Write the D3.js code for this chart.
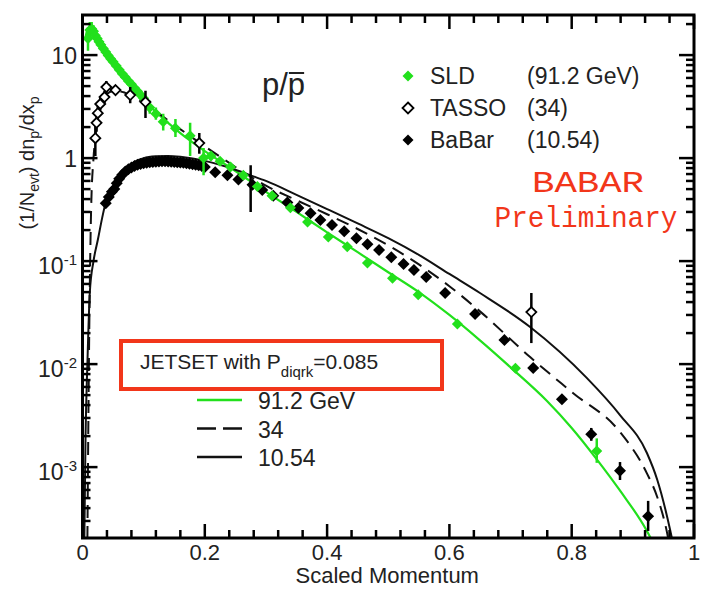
<!DOCTYPE html>
<html><head><meta charset="utf-8">
<script src="https://cdn.jsdelivr.net/npm/d3@7"></script>
<style>body{margin:0;background:#fff}svg{display:block}</style>
</head><body><svg id="c" width="701" height="590"></svg>
<script>
// ---- data ----
const sldP  = [0.009,0.012,0.015,0.018,0.021,0.024,0.027,0.030,0.034,0.038,0.042,0.046,0.050,0.055,0.060,0.065,0.070,0.075,0.080,0.085,0.090,0.095,0.100,0.110,0.120,0.132,0.152,0.176,0.198,0.210,0.225,0.242,0.263,0.286,0.310,0.340,0.368,0.402,0.433,0.466,0.507,0.549,0.613,0.708,0.841];
const sldV  = [14.5,17.5,18,17,15.5,14.5,13.5,12.6,11.6,10.7,9.9,9.2,8.6,7.9,7.2,6.6,6.1,5.6,5.2,4.8,4.45,4.1,3.8,3.1,2.7,2.25,1.95,1.65,1.0,1.05,0.93,0.82,0.68,0.53,0.43,0.33,0.239,0.171,0.138,0.096,0.068,0.047,0.0245,0.0091,0.00143];
const sldLo = [11,15,16,15,14,13.2,12.4,11.6,10.8,10,9.3,8.6,8.1,7.4,6.8,6.2,5.7,5.2,4.8,4.4,4.1,3.75,3.45,2.7,2.35,1.85,1.6,1.05,0.68,0.95,0.85,0.75,0.62,0.49,0.4,0.31,0.225,0.16,0.13,0.09,0.064,0.044,0.023,0.0085,0.0011];
const sldHi = [18.5,21,21,19.5,17.5,16,14.8,13.7,12.5,11.5,10.6,9.9,9.2,8.5,7.7,7.1,6.6,6.1,5.7,5.3,4.9,4.5,4.2,3.6,3.1,2.7,2.4,2.2,1.25,1.15,1.0,0.9,0.74,0.57,0.46,0.35,0.255,0.182,0.146,0.102,0.072,0.05,0.026,0.0097,0.0019];

const tassoP  = [0.021,0.023,0.025,0.029,0.036,0.039,0.054,0.078,0.103,0.191,0.275,0.734];
const tassoV  = [1.56,2.2,2.73,3.35,3.91,4.89,4.57,4.09,3.5,1.40,0.55,0.032];
const tassoLo = [1.05,1.8,2.3,2.9,3.4,4.2,4.1,3.4,2.45,1.1,0.30,0.016];
const tassoHi = [2.3,2.7,3.2,3.9,4.5,5.6,5.1,4.9,4.5,1.75,0.85,0.049];

const babarP = [0.038,0.043,0.048,0.052,0.056,0.060,0.065,0.070,0.075,0.080,0.085,0.090,0.095,0.100,0.105,0.110,0.115,0.120,0.125,0.130,0.135,0.140,0.145,0.150,0.155,0.160,0.165,0.170,0.175,0.180,0.185,0.190,0.195,0.200,0.217,0.237,0.255,0.278,0.294,0.312,0.335,0.353,0.373,0.389,0.408,0.428,0.448,0.466,0.485,0.505,0.525,0.542,0.562,0.593,0.642,0.690,0.737,0.784,0.832,0.879,0.925];
const babarV = [0.365,0.42,0.47,0.50,0.57,0.63,0.69,0.74,0.78,0.81,0.84,0.86,0.875,0.89,0.9,0.91,0.915,0.92,0.925,0.93,0.93,0.925,0.92,0.915,0.91,0.905,0.9,0.89,0.88,0.87,0.86,0.85,0.84,0.82,0.73,0.68,0.62,0.55,0.49,0.43,0.37,0.327,0.292,0.25,0.224,0.195,0.167,0.146,0.128,0.109,0.0935,0.0818,0.070,0.0489,0.0306,0.0171,0.00915,0.00457,0.00209,0.00092,0.000334];
const babarErrP  = [0.832,0.879,0.925];
const babarErrLo = [0.0018,0.00075,0.00024];
const babarErrHi = [0.0024,0.00112,0.00047];

const jet91P = [0.004,0.008,0.012,0.016,0.020,0.030,0.040,0.050,0.060,0.070,0.080,0.100,0.120,0.140,0.160,0.180,0.200,0.250,0.300,0.350,0.400,0.450,0.500,0.550,0.600,0.650,0.700,0.760,0.800,0.842,0.880,0.923,0.932];
const jet91V = [14,17.5,18.5,18,16.5,12.6,10.2,8.5,7.1,6.0,5.1,3.7,2.8,2.2,1.75,1.42,1.17,0.75,0.47,0.30,0.19,0.122,0.078,0.050,0.030,0.017,0.0093,0.00436,0.0024,0.00117,0.00058,0.00024,0.00019];

const jet34P = [0.008,0.011,0.014,0.018,0.021,0.025,0.030,0.040,0.050,0.060,0.070,0.085,0.100,0.125,0.150,0.175,0.200,0.225,0.250,0.275,0.300,0.350,0.400,0.450,0.500,0.550,0.600,0.650,0.732,0.802,0.879,0.923,0.940,0.956,0.958];
const jet34V = [0.0002,0.02,0.3,1.0,1.6,2.5,3.4,4.2,4.45,4.45,4.3,3.9,3.4,2.7,2.1,1.65,1.3,1.03,0.82,0.66,0.54,0.39,0.285,0.205,0.142,0.093,0.057,0.0325,0.0117,0.00524,0.00219,0.00087,0.00051,0.00023,0.0002];

const jet10P = [0.003,0.005,0.008,0.012,0.018,0.025,0.032,0.038,0.045,0.055,0.070,0.085,0.100,0.120,0.140,0.160,0.180,0.200,0.225,0.250,0.275,0.300,0.350,0.400,0.450,0.500,0.550,0.600,0.650,0.732,0.825,0.879,0.923,0.940,0.961,0.965];
const jet10V = [0.0002,0.002,0.01,0.05,0.1,0.16,0.26,0.37,0.46,0.6,0.78,0.92,1.0,1.04,1.05,1.03,0.99,0.94,0.86,0.77,0.68,0.60,0.44,0.32,0.232,0.167,0.115,0.075,0.049,0.0229,0.0073,0.0032,0.00137,0.00075,0.000245,0.00019];

const xMajor = [0,0.2,0.4,0.6,0.8,1];
const xLabels = ["0","0.2","0.4","0.6","0.8","1"];
const yMajor = [1e-3,1e-2,1e-1,1,10];
const yLabelBase = ["10","10","10","1","10"];
const yLabelExp  = ["-3","-2","-1","",""];
const legendNames = ["SLD","TASSO","BaBar"];
const legendEnergies = ["(91.2 GeV)","(34)","(10.54)"];
const lineLegend = ["91.2 GeV","34","10.54"];

// ---- drawing ----
const SANS = '"Liberation Sans", Arial, Helvetica, sans-serif';
const MONO = '"Liberation Mono", "Courier New", monospace';
const svg = d3.select("#c").style("font-family",SANS);
const L=82.5, R=694, T=15, B=538;
const x = d3.scaleLinear().domain([0,1]).range([L,R]);
const y = d3.scaleLog().domain([2.05e-4,24.5]).range([B,T]);
const GREEN="#22e01c", RED="#f2361a";

svg.append("defs").append("clipPath").attr("id","clip")
  .append("rect").attr("x",L).attr("y",T).attr("width",R-L).attr("height",B-T);

const plot = svg.append("g").attr("clip-path","url(#clip)");

const line = d3.line().x(d=>x(d[0])).y(d=>y(d[1])).curve(d3.curveMonotoneX);
plot.append("path").attr("d",line(d3.zip(jet91P,jet91V))).attr("fill","none").attr("stroke",GREEN).attr("stroke-width",2.2);
plot.append("path").attr("d",line(d3.zip(jet34P,jet34V))).attr("fill","none").attr("stroke","#111").attr("stroke-width",2).attr("stroke-dasharray","13,8");
plot.append("path").attr("d",line(d3.zip(jet10P,jet10V))).attr("fill","none").attr("stroke","#111").attr("stroke-width",2);

const diamond = r => `M0,${-r}L${r},0L0,${r}L${-r},0Z`;

// BaBar
plot.selectAll(".be").data(d3.zip(babarErrP,babarErrLo,babarErrHi)).join("line")
  .attr("x1",d=>x(d[0])).attr("x2",d=>x(d[0])).attr("y1",d=>y(d[1])).attr("y2",d=>y(d[2]))
  .attr("stroke","#000").attr("stroke-width",2.5);
plot.selectAll(".bp").data(d3.zip(babarP,babarV)).join("path")
  .attr("d",diamond(6)).attr("transform",d=>`translate(${x(d[0])},${y(d[1])})`).attr("fill","#000");

// SLD
plot.selectAll(".se").data(d3.zip(sldP,sldLo,sldHi)).join("line")
  .attr("x1",d=>x(d[0])).attr("x2",d=>x(d[0])).attr("y1",d=>y(d[1])).attr("y2",d=>y(d[2]))
  .attr("stroke",GREEN).attr("stroke-width",2.5);
plot.selectAll(".sp").data(d3.zip(sldP,sldV)).join("path")
  .attr("d",diamond(5.5)).attr("transform",d=>`translate(${x(d[0])},${y(d[1])})`).attr("fill",GREEN);

// TASSO
plot.selectAll(".te").data(d3.zip(tassoP,tassoLo,tassoHi)).join("line")
  .attr("x1",d=>x(d[0])).attr("x2",d=>x(d[0])).attr("y1",d=>y(d[1])).attr("y2",d=>y(d[2]))
  .attr("stroke","#000").attr("stroke-width",2.5);
plot.selectAll(".tp").data(d3.zip(tassoP,tassoV).filter(d=>d[0]!==0.275)).join("path")
  .attr("d",diamond(5)).attr("transform",d=>`translate(${x(d[0])},${y(d[1])})`)
  .attr("fill","#fff").attr("stroke","#000").attr("stroke-width",1.8);

// frame & ticks
const ax = svg.append("g").attr("stroke","#000");
ax.append("rect").attr("x",L).attr("y",T).attr("width",R-L).attr("height",B-T).attr("fill","none").attr("stroke-width",3);
const xMinor = d3.range(0,1.0001,0.04);
xMinor.forEach(t=>{
  const maj = xMajor.some(m=>Math.abs(m-t)<1e-6), len = maj?14:8;
  ax.append("line").attr("x1",x(t)).attr("x2",x(t)).attr("y1",B).attr("y2",B-len).attr("stroke-width",2.5);
  ax.append("line").attr("x1",x(t)).attr("x2",x(t)).attr("y1",T).attr("y2",T+len).attr("stroke-width",2.5);
});
const yTicks = [];
for(let d=-4; d<=1; d++) for(let k=1;k<=9;k++){const v=k*Math.pow(10,d); if(v>=y.domain()[0]&&v<=y.domain()[1]) yTicks.push([v,k===1]);}
yTicks.forEach(([v,maj])=>{
  const len = maj?15:8;
  ax.append("line").attr("x1",L).attr("x2",L+len).attr("y1",y(v)).attr("y2",y(v)).attr("stroke-width",2.5);
  ax.append("line").attr("x1",R).attr("x2",R-len).attr("y1",y(v)).attr("y2",y(v)).attr("stroke-width",2.5);
});

// tick labels
xMajor.forEach((t,i)=>{
  svg.append("text").attr("x",x(t)).attr("y",560).attr("text-anchor","middle").attr("font-size",22).attr("fill","#222").text(xLabels[i]);
});
yMajor.forEach((v,i)=>{
  const t = svg.append("text").attr("x",77).attr("text-anchor","end").attr("font-size",23).attr("fill","#222");
  if(yLabelExp[i]){
    t.attr("y",y(v)+13);
    t.append("tspan").text(yLabelBase[i]);
    t.append("tspan").attr("dy",-9).attr("font-size",15).text(yLabelExp[i]);
  } else {
    t.attr("y",y(v)+9).text(yLabelBase[i]);
  }
});

// axis titles
svg.append("text").attr("x",(L+R)/2-1).attr("y",583).attr("text-anchor","middle").attr("font-size",22).attr("fill","#222").text("Scaled Momentum");
const yl = svg.append("text").attr("transform","translate(34,163) rotate(-90)").attr("text-anchor","middle").attr("font-size",20).attr("fill","#222");
yl.append("tspan").text("(1/N");
yl.append("tspan").attr("font-size",14).attr("dy",5).text("evt");
yl.append("tspan").attr("dy",-5).text(") dn");
yl.append("tspan").attr("font-size",14).attr("dy",5).text("p");
yl.append("tspan").attr("dy",-5).text("/dx");
yl.append("tspan").attr("font-size",14).attr("dy",5).text("p");

// title p/p-bar
const ttl = svg.append("text").attr("x",262).attr("y",95).attr("font-size",31).attr("fill","#222").text("p/p");
const tn = ttl.node();
const off = tn.getSubStringLength(0,2), pw = tn.getSubStringLength(2,1);
svg.append("line").attr("x1",262+off+1).attr("x2",262+off+pw-1).attr("y1",73).attr("y2",73).attr("stroke","#222").attr("stroke-width",2);

// data legend
const legColors = [GREEN,"#fff","#000"];
legendNames.forEach((n,i)=>{
  const cy = 76 + i*32;
  svg.append("path").attr("d",diamond(5.5)).attr("transform",`translate(408,${cy})`)
    .attr("fill",legColors[i]).attr("stroke",i===1?"#000":"none").attr("stroke-width",1.8);
  svg.append("text").attr("x",430).attr("y",cy+8).attr("font-size",23).attr("fill","#222").text(n);
  svg.append("text").attr("x",527).attr("y",cy+8).attr("font-size",23).attr("fill","#222").text(legendEnergies[i]);
});

// BABAR Preliminary
svg.append("text").attr("x",588).attr("y",192).attr("text-anchor","middle").style("font-family",MONO)
  .attr("font-size",30).attr("fill",RED).attr("textLength",112).attr("lengthAdjust","spacingAndGlyphs").text("BABAR");
svg.append("text").attr("x",586).attr("y",227).attr("text-anchor","middle").style("font-family",MONO)
  .attr("font-size",29).attr("fill",RED).attr("textLength",183).attr("lengthAdjust","spacingAndGlyphs").text("Preliminary");

// JETSET box
svg.append("rect").attr("x",121).attr("y",341).attr("width",321).attr("height",48).attr("fill","#fff").attr("stroke",RED).attr("stroke-width",4);
const jt = svg.append("text").attr("x",140).attr("y",369).attr("font-size",21).attr("fill","#222");
jt.append("tspan").text("JETSET with P");
jt.append("tspan").attr("font-size",15).attr("dy",8).text("diqrk");
jt.append("tspan").attr("dy",-8).text("=0.085");

// line legend
const lStyles = [{c:GREEN,d:null},{c:"#111",d:"19,7"},{c:"#111",d:null}];
lineLegend.forEach((n,i)=>{
  const cy = 400 + i*28.5;
  const l = svg.append("line").attr("x1",197).attr("x2",242).attr("y1",cy).attr("y2",cy).attr("stroke",lStyles[i].c).attr("stroke-width",2.5);
  if(lStyles[i].d) l.attr("stroke-dasharray",lStyles[i].d);
  svg.append("text").attr("x",258).attr("y",cy+9).attr("font-size",23).attr("fill","#222").text(n);
});
</script></body></html>
